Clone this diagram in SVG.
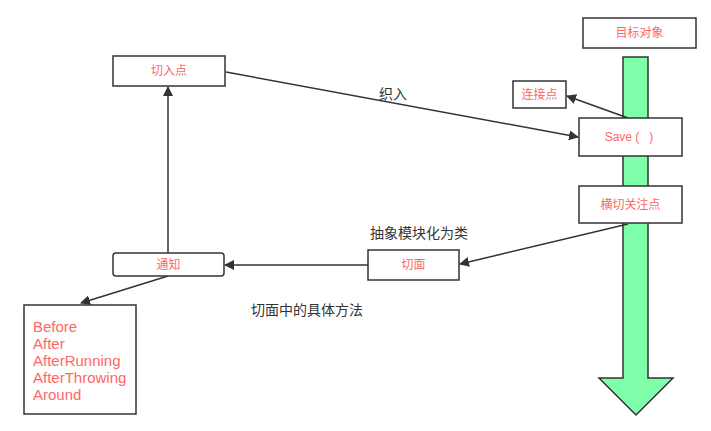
<svg xmlns="http://www.w3.org/2000/svg" width="711" height="431" viewBox="0 0 711 431">
<style>
.box{fill:#fff;stroke:#333;stroke-width:1.5}
.lbl{font-family:"Liberation Sans","Noto Sans CJK SC",sans-serif;font-size:12px;fill:#FF6666;text-anchor:middle}
.edge{fill:none;stroke:#333;stroke-width:1.5}
.note{font-family:"Liberation Sans","Noto Sans CJK SC",sans-serif;font-size:14px;fill:#333}
.list{font-family:"Liberation Sans","Noto Sans CJK SC",sans-serif;font-size:15px;fill:#FF6666}
</style>
<defs>
<marker id="ah2" viewBox="0 0 10 10" refX="9" refY="5" markerWidth="10" markerHeight="10" markerUnits="userSpaceOnUse" orient="auto">
<path d="M0,0 L10,5 L0,10 z" fill="#333"/>
</marker>
</defs>
<rect width="711" height="431" fill="#fff"/>
<g id="flow">
<polygon points="623,57 648,57 648,378 673,378 636,415 599,378 623,378" fill="#80FFAA" stroke="#333" stroke-width="1.5"/>
</g>
<g id="connectors">
<line class="edge" x1="226" y1="72" x2="578" y2="137" marker-end="url(#ah2)"/>
<line class="edge" x1="628" y1="118" x2="567" y2="96" marker-end="url(#ah2)"/>
<line class="edge" x1="628" y1="224" x2="460" y2="264" marker-end="url(#ah2)"/>
<line class="edge" x1="368" y1="265" x2="225" y2="265" marker-end="url(#ah2)"/>
<line class="edge" x1="168" y1="253" x2="168" y2="87" marker-end="url(#ah2)"/>
<line class="edge" x1="168" y1="276" x2="81" y2="303" marker-end="url(#ah2)"/>
<text class="note" x="393" y="99" text-anchor="middle">织入</text>
<text class="note" x="419" y="238" text-anchor="middle" font-size="15">抽象模块化为类</text>
<text class="note" x="307" y="315" text-anchor="middle" font-size="15">切面中的具体方法</text>
</g>
<g id="target"><rect class="box" x="583" y="18" width="113" height="30"/><text class="lbl" x="639.5" y="37">目标对象</text></g>
<g id="joinpoint"><rect class="box" x="513" y="81" width="53" height="27"/><text class="lbl" x="539.5" y="99">连接点</text></g>
<g id="save"><rect class="box" x="579" y="118" width="103" height="38"/><text class="lbl" x="629" y="141" xml:space="preserve" style="white-space:pre">Save (   )</text></g>
<g id="crosscut"><rect class="box" x="579" y="186" width="103" height="37"/><text class="lbl" x="630.5" y="209">横切关注点</text></g>
<g id="pointcut"><rect class="box" x="113" y="56" width="112" height="30"/><text class="lbl" x="169" y="75">切入点</text></g>
<g id="aspect"><rect class="box" x="368" y="250" width="91" height="30"/><text class="lbl" x="413.5" y="269">切面</text></g>
<g id="advice"><rect class="box" x="113" y="253" width="111" height="23" rx="3"/><text class="lbl" x="168.5" y="269">通知</text></g>
<g id="advicetypes"><rect class="box" x="24" y="305" width="112" height="109"/>
<text class="list" x="33" y="332">Before</text>
<text class="list" x="33" y="349">After</text>
<text class="list" x="33" y="366">AfterRunning</text>
<text class="list" x="33" y="383">AfterThrowing</text>
<text class="list" x="33" y="400">Around</text>
</g>
</svg>
